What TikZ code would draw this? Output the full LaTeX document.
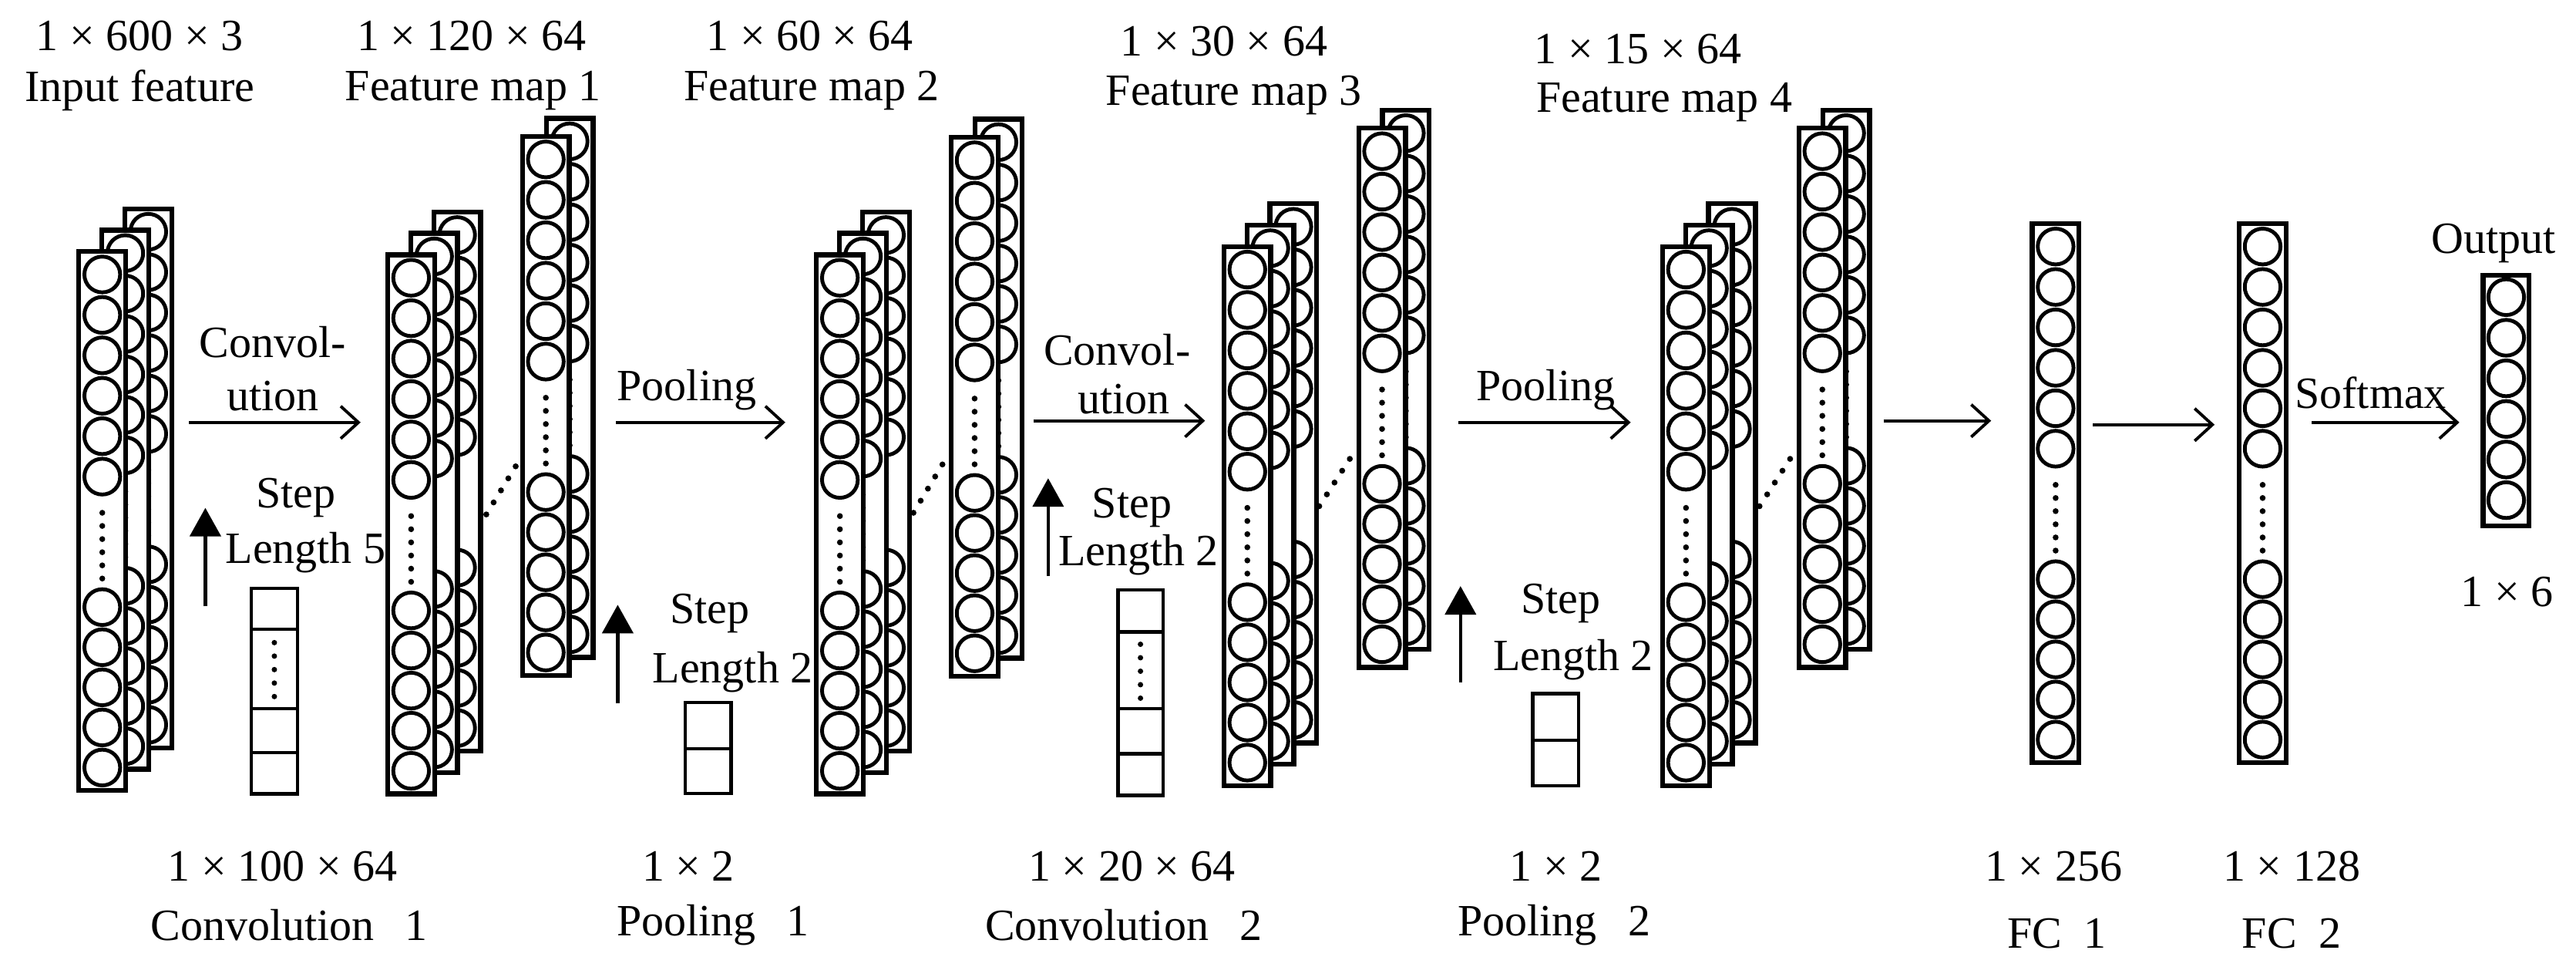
\documentclass[tikz,border=0pt]{standalone}
\usepackage{fontspec}
\setmainfont{Liberation Serif}
\usetikzlibrary{arrows.meta}
\tikzset{
  rect/.style={draw=black,fill=white,line width=1.8pt},
  cir/.style={draw=black,line width=1.4pt},
  box/.style={draw=black,line width=1.2pt},
  flow/.style={line width=1.1pt,-{Straight Barb[length=2.3mm,width=4.2mm,line width=1.1pt]}},
  steparr/.style={line width=1.3pt,-{Triangle[length=3.7mm,width=4mm]}},
  dotl/.style={line width=2.2pt,line cap=round,dash pattern=on 0pt off 5.2pt},
  lab/.style={inner sep=0pt,font=\fontsize{16.5}{19}\selectfont}
}
\newcommand\lay[2]{\begin{scope}[shift={(#1,#2)}]
\draw[rect] (0,0) rectangle (28.5,328);
\foreach \i in {0,...,5} \draw[cir] (14.25,14+24.6*\i) circle[radius=0.232cm];
\foreach \i in {0,...,4} \draw[cir] (14.25,314-24.4*\i) circle[radius=0.232cm];
\foreach \i in {0,...,5} \fill (14.25,159+8*\i) circle[radius=0.038cm];
\end{scope}}
\newcommand\stackthree[2]{\lay{#1+28}{#2-26}\lay{#1+14}{#2-13}\lay{#1}{#2}}
\newcommand\stacktwo[2]{\lay{#1+14.5}{#2-11}\lay{#1}{#2}}
\begin{document}
\begin{tikzpicture}[x=0.02131cm,y=-0.02131cm]
\useasboundingbox (0,0) rectangle (1568,594);
% stacks
\stackthree{48}{153}
\stackthree{236}{155}
\stacktwo{318}{83}
\stackthree{497}{155}
\stacktwo{579}{83.5}
\stackthree{745}{150}
\stacktwo{827}{78}
\stackthree{1012}{150}
\stacktwo{1095}{78}
\lay{1237}{136}
\lay{1363}{136}
% output
\draw[rect] (1511.5,167.5) rectangle (1539.5,320);
\foreach \i in {0,...,5} \draw[cir] (1525.5,180.8+24.7*\i) circle[radius=0.232cm];
% dotted connectors
\coordinate (d1a) at (296,313); \coordinate (d1b) at (318,277);
\coordinate (d2a) at (556,312); \coordinate (d2b) at (577,277);
\coordinate (d3a) at (803,308); \coordinate (d3b) at (825,274);
\coordinate (d4a) at (1071,308); \coordinate (d4b) at (1093,274);
\draw[dotl] (d1a) -- (d1b);
\draw[dotl] (d2a) -- (d2b);
\draw[dotl] (d3a) -- (d3b);
\draw[dotl] (d4a) -- (d4b);
% kernel boxes
\draw[box] (153,358) rectangle (181,483);
\draw[box] (153,383) -- (181,383) (153,431) -- (181,431) (153,458) -- (181,458);
\foreach \i in {0,...,4} \fill (167,391+8.2*\i) circle[radius=0.035cm];
\draw[box] (680.5,359) rectangle (708,484);
\draw[box] (680.5,384.5) -- (708,384.5) (680.5,431) -- (708,431) (680.5,458.6) -- (708,458.6);
\foreach \i in {0,...,4} \fill (694.2,392+8.2*\i) circle[radius=0.035cm];
\draw[box] (417,427.5) rectangle (445,482.6);
\draw[box] (417,455.6) -- (445,455.6);
\draw[box] (933,422) rectangle (961,478);
\draw[box] (933,450.5) -- (961,450.5);
% flow arrows
\coordinate (a1s) at (115,257); \coordinate (a1e) at (219.5,257);
\coordinate (a2s) at (375,257); \coordinate (a2e) at (478,257);
\coordinate (a3s) at (629,256); \coordinate (a3e) at (733.5,256);
\coordinate (a4s) at (887.6,257); \coordinate (a4e) at (992.6,257);
\coordinate (a5s) at (1146.5,256); \coordinate (a5e) at (1212,256);
\coordinate (a6s) at (1274,258.4); \coordinate (a6e) at (1348,258.4);
\coordinate (a7s) at (1407,257); \coordinate (a7e) at (1497,257);
\foreach \n in {1,...,7} \draw[flow] (a\n s) -- (a\n e);
% step arrows
\coordinate (s1s) at (125,369); \coordinate (s1e) at (125,309);
\coordinate (s2s) at (376,428); \coordinate (s2e) at (376,368);
\coordinate (s3s) at (638,350.5); \coordinate (s3e) at (638,291);
\coordinate (s4s) at (889,415); \coordinate (s4e) at (889,356.6);
\foreach \n in {1,...,4} \draw[steparr] (s\n s) -- (s\n e);
% labels
\node[lab] (t1) at (85,22) {1 × 600 × 3};
\node[lab] (t2) at (85,55) {Input feature};
\node[lab] (t3) at (287,22) {1 × 120 × 64};
\node[lab] (t4) at (288,55) {Feature map 1};
\node[lab] (t5) at (493,22) {1 × 60 × 64};
\node[lab] (t6) at (494,55) {Feature map 2};
\node[lab] (t7) at (745,25) {1 × 30 × 64};
\node[lab] (t8) at (751,58) {Feature map 3};
\node[lab] (t9) at (997,30) {1 × 15 × 64};
\node[lab] (t10) at (1013,62) {Feature map 4};
\node[lab] (c1) at (166,208) {Convol-};
\node[lab] (c2) at (166,241) {ution};
\node[lab] (c3) at (180,303) {Step};
\node[lab] (c4) at (186,336) {Length 5};
\node[lab] (p1) at (418,237) {Pooling};
\node[lab] (p2) at (432,373) {Step};
\node[lab] (p3) at (446,409) {Length 2};
\node[lab] (c5) at (680,213) {Convol-};
\node[lab] (c6) at (684,243) {ution};
\node[lab] (c7) at (689,309) {Step};
\node[lab] (c8) at (693,337.5) {Length 2};
\node[lab] (p4) at (941,237) {Pooling};
\node[lab] (p5) at (950,367) {Step};
\node[lab] (p6) at (957.6,401.6) {Length 2};
\node[lab] (sm) at (1443,239) {Softmax};
\node[lab] (o1) at (1518,148) {Output};
\node[lab] (o2) at (1526,360) {1 × 6};
\node[lab] (b1) at (172,527) {1 × 100 × 64};
\node[lab] (b2) at (176,563) {Convolution\hspace{0.7em}1};
\node[lab] (b3) at (419,527) {1 × 2};
\node[lab] (b4) at (434,563) {Pooling\hspace{0.7em}1};
\node[lab] (b5) at (689,527) {1 × 20 × 64};
\node[lab] (b6) at (684,563) {Convolution\hspace{0.7em}2};
\node[lab] (b7) at (947,527) {1 × 2};
\node[lab] (b8) at (946,563) {Pooling\hspace{0.7em}2};
\node[lab] (b9) at (1250,527) {1 × 256};
\node[lab] (b10) at (1252,568) {FC\hspace{0.5em}1};
\node[lab] (b11) at (1395,527) {1 × 128};
\node[lab] (b12) at (1395,568) {FC\hspace{0.5em}2};
\end{tikzpicture}
\end{document}
